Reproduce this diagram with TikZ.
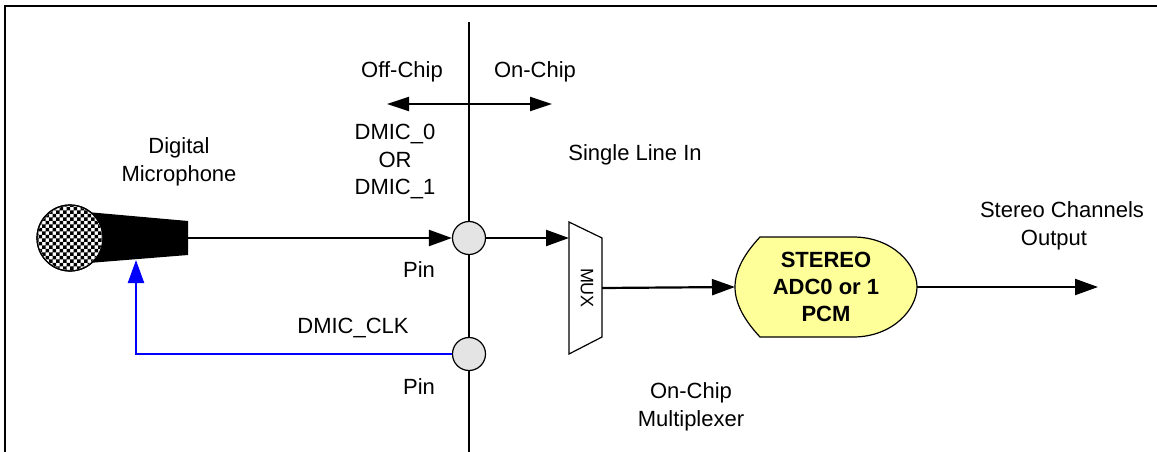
\documentclass[tikz,border=0pt]{standalone}
\usepackage{fontspec}
\setmainfont{Liberation Sans}
\usetikzlibrary{arrows.meta,patterns}
\definecolor{adcyellow}{RGB}{255,255,153}
\definecolor{pingray}{RGB}{228,228,228}
\pgfdeclarepatternformonly{miccheck}{\pgfqpoint{-1pt}{-1pt}}{\pgfqpoint{7pt}{7pt}}{\pgfqpoint{7pt}{7pt}}%
{%
  \pgfpathrectangle{\pgfqpoint{0pt}{0pt}}{\pgfqpoint{3.55pt}{3.55pt}}%
  \pgfpathrectangle{\pgfqpoint{3.5pt}{3.5pt}}{\pgfqpoint{3.55pt}{3.55pt}}%
  \pgfusepath{fill}%
}
\begin{document}
\begin{tikzpicture}[x=1pt,y=-1pt,
  lbl/.style={font=\fontsize{22}{27.5}\selectfont, align=center, inner sep=0pt},
  conn/.style={line width=2.2pt, -{Triangle[length=23pt,width=16pt]}},
  pinnode/.style={circle, draw, line width=1.2pt, fill=pingray, minimum size=33pt, inner sep=0pt},
  ]
\useasboundingbox (0,0) rectangle (1157,452);
% frame
\draw[line width=1.5pt] (5,470) -- (5,6) -- (1170,6);
% chip boundary
\coordinate (vtop) at (469,22);
\coordinate (vbot) at (469,460);
\draw[line width=1.5pt] (vtop) -- (vbot);
% off/on chip arrow
\coordinate (offend) at (387,104);
\coordinate (onend) at (552,104);
\draw[line width=2pt, {Triangle[length=22pt,width=14pt]}-{Triangle[length=22pt,width=14pt]}] (offend) -- (onend);
\node[lbl] (off) at (402,72) {Off-Chip};
\node[lbl] (on) at (535,72) {On-Chip};
\node[lbl] (dmic) at (395,162) {DMIC\_0\\OR\\DMIC\_1};
\node[lbl] (dm) at (179,162) {Digital\\Microphone};
\node[lbl] (sli) at (635,155) {Single Line In};
\node[lbl] (pinl1) at (419,270) {Pin};
\node[lbl] (pinl2) at (419,387) {Pin};
\node[lbl] (clk) at (353,328) {DMIC\_CLK};
\node[lbl] (ocm) at (691,407) {On-Chip\\Multiplexer};
\node[lbl] (sco) at (1062,226) {Stereo Channels\\Output\hspace*{16pt}};
% microphone
\fill[black] (70,210.5) -- (188,221) -- (188,255) -- (70,264.5) -- cycle;
\filldraw[fill=white, line width=1.2pt] (70,238) circle[radius=33];
\fill[pattern=miccheck] (70,238) circle[radius=32];
\draw[line width=1.2pt] (70,238) circle[radius=33];
\coordinate (micout) at (188,238);
\coordinate (micbot) at (136,260);
% pins
\node[pinnode] (pin1) at (469,238) {};
\node[pinnode] (pin2) at (469,354) {};
% mux
\draw[line width=1.2pt, fill=white] (569,222) -- (602,238) -- (602,337) -- (569,354) -- cycle;
\node[font=\fontsize{18}{20}\selectfont, rotate=-90, inner sep=0pt] (mux) at (587,288) {MUX};
\coordinate (muxin) at (569,238);
\coordinate (muxout) at (602,288);
% ADC
\draw[line width=1.2pt, fill=adcyellow]
  (760,237) -- (853,237) .. controls (893,237) and (917,265) .. (917,287)
  .. controls (917,309) and (893,337) .. (853,337) -- (760,337)
  .. controls (746,322) and (735,305) .. (735,287)
  .. controls (735,269) and (746,252) .. (760,237) -- cycle;
\node[font=\fontsize{22}{27}\selectfont\bfseries, align=center, inner sep=0pt] (adc) at (826,287) {STEREO\\ADC0 or 1\\PCM};
\coordinate (adcin) at (735,287);
\coordinate (adcout) at (917,287);
\coordinate (outend) at (1098,287);
% connectors
\draw[conn] (micout) -- (pin1.west);
\draw[conn] (pin1.east) -- (muxin);
\draw[conn] (muxout) -- (adcin);
\draw[conn] (adcout) -- (outend);
\draw[conn, blue] (pin2.west) -| (micbot);
\end{tikzpicture}
\end{document}
